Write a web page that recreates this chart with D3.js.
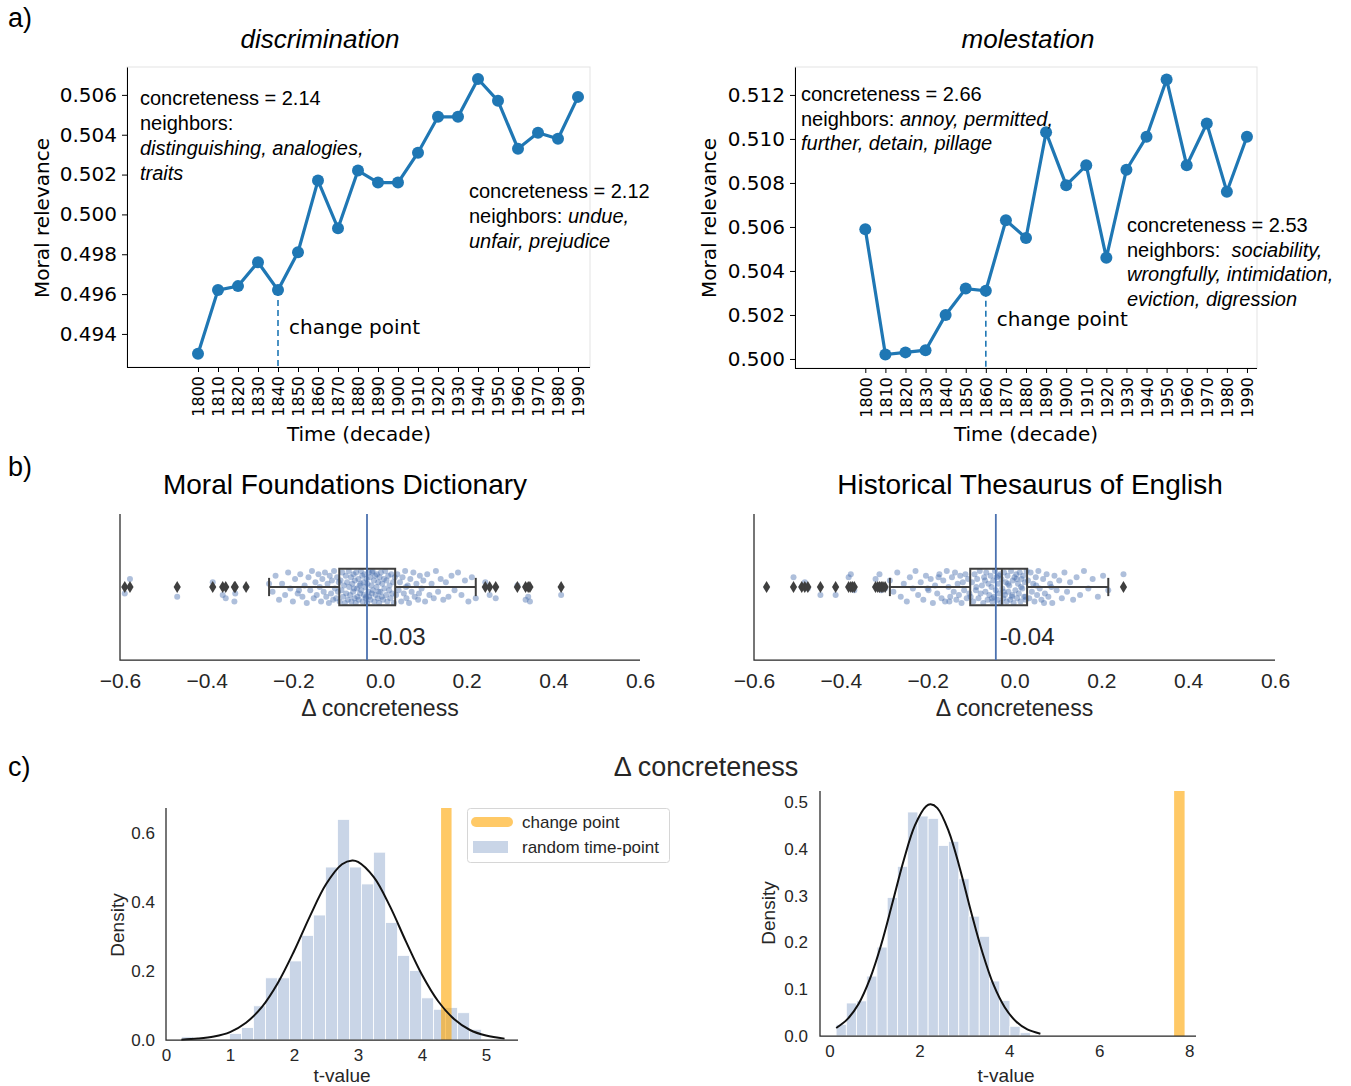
<!DOCTYPE html>
<html>
<head>
<meta charset="utf-8">
<script src="https://cdn.jsdelivr.net/npm/d3@7"></script>
<style>
  body { margin: 0; background: #fff; }
  svg { display: block; }
</style>
</head>
<body>
<div id="chart"></div>
<script>
// ---- data ----
const decades = [1800, 1810, 1820, 1830, 1840, 1850, 1860, 1870, 1880, 1890,
                 1900, 1910, 1920, 1930, 1940, 1950, 1960, 1970, 1980, 1990];
const discriminationValues = [0.4930, 0.4962, 0.4964, 0.4976, 0.4962, 0.4981, 0.5017, 0.4993, 0.5022, 0.5016,
                              0.5016, 0.5031, 0.5049, 0.5049, 0.5068, 0.5057, 0.5033, 0.5041, 0.5038, 0.5059];
const molestationValues = [0.5059, 0.5002, 0.5003, 0.5004, 0.5020, 0.5032, 0.5031, 0.5063, 0.5055, 0.5103,
                           0.5079, 0.5088, 0.5046, 0.5086, 0.5101, 0.5127, 0.5088, 0.5107, 0.5076, 0.5101];
const discriminationTicks = [0.494, 0.496, 0.498, 0.500, 0.502, 0.504, 0.506];
const molestationTicks = [0.500, 0.502, 0.504, 0.506, 0.508, 0.510, 0.512];

// boxplot stats: [whisker low, q1, median, q3, whisker high]
const mfdBox = [-0.256, -0.094, -0.030, 0.035, 0.221];
const mfdMean = -0.03;
const mfdOutliers = [-0.589, -0.577, -0.468, -0.386, -0.363, -0.356, -0.336, -0.334, -0.309,
                     0.243, 0.253, 0.267, 0.317, 0.336, 0.342, 0.346, 0.418];
// [delta concreteness, jitter]
const mfdPoints = [
  [-0.589,0.04],[-0.577,-0.05],[-0.468,0.06],[-0.386,-0.03],[-0.363,0.05],[-0.356,0.07],[-0.336,0.09],[-0.334,0.04],[-0.309,0.0],
  [-0.256,-0.02],[0.221,0.07],[0.243,-0.03],[0.253,0.05],[0.267,0.07],[0.317,-0.01],[0.336,0.08],[0.342,0.06],[0.346,0.09],[0.418,0.05],
  [-0.248,0.03],[-0.241,-0.07],[-0.233,0.08],[-0.226,-0.02],[-0.219,0.05],[-0.212,-0.09],[-0.207,0.01],[-0.201,0.09],[-0.196,-0.05],[-0.19,0.04],
  [-0.184,-0.08],[-0.179,0.06],[-0.174,-0.01],[-0.169,0.1],[-0.165,-0.06],[-0.161,0.02],[-0.157,-0.1],[-0.153,0.07],[-0.149,-0.03],[-0.146,0.05],
  [-0.142,-0.08],[-0.139,0.0],[-0.136,0.09],[-0.133,-0.05],[-0.13,0.03],[-0.127,-0.09],[-0.124,0.06],[-0.121,-0.02],[-0.118,0.1],[-0.116,-0.07],
  [-0.113,0.04],[-0.111,-0.04],[-0.108,0.08],[-0.106,-0.1],[-0.104,0.01],[-0.101,0.07],[-0.099,-0.06],[-0.097,0.03],[-0.095,-0.03],[-0.187,0.02],
  [-0.093,0.09],[-0.091,-0.04],[-0.089,0.02],[-0.087,-0.09],[-0.085,0.06],[-0.083,-0.01],[-0.081,0.1],[-0.079,-0.07],[-0.078,0.04],[-0.076,-0.03],
  [-0.074,0.08],[-0.072,-0.1],[-0.071,0.0],[-0.069,0.05],[-0.067,-0.06],[-0.066,0.09],[-0.064,-0.02],[-0.062,0.03],[-0.061,-0.08],[-0.059,0.07],
  [-0.058,-0.04],[-0.056,0.1],[-0.055,-0.09],[-0.053,0.01],[-0.052,0.06],[-0.05,-0.05],[-0.049,0.08],[-0.047,-0.01],[-0.046,0.04],[-0.044,-0.1],
  [-0.043,0.02],[-0.041,-0.07],[-0.04,0.09],[-0.038,-0.03],[-0.037,0.05],[-0.036,-0.08],[-0.034,0.0],[-0.033,0.07],[-0.031,-0.05],[-0.03,0.1],
  [-0.029,-0.02],[-0.027,0.03],[-0.026,-0.09],[-0.025,0.06],[-0.023,-0.06],[-0.022,0.08],[-0.02,-0.01],[-0.019,0.04],[-0.017,-0.1],[-0.016,0.02],
  [-0.014,-0.04],[-0.013,0.09],[-0.011,-0.07],[-0.01,0.05],[-0.008,0.0],[-0.007,-0.08],[-0.005,0.07],[-0.004,-0.03],[-0.002,0.1],[-0.001,-0.06],
  [0.001,0.03],[0.002,-0.09],[0.004,0.06],[0.005,-0.02],[0.007,0.08],[0.009,-0.05],[0.01,0.01],[0.012,-0.1],[0.014,0.05],[0.015,-0.04],
  [0.017,0.09],[0.019,-0.07],[0.021,0.02],[0.022,-0.01],[0.024,0.07],[0.026,-0.08],[0.028,0.04],[0.03,-0.03],[0.032,0.1],[0.034,-0.06],
  [-0.06,0.01],[-0.045,-0.02],[-0.032,0.06],[-0.018,-0.09],[-0.003,0.03],
  [0.037,0.05],[0.04,-0.08],[0.043,0.02],[0.046,-0.03],[0.049,0.09],[0.052,-0.06],[0.055,0.04],[0.058,-0.1],[0.061,0.07],[0.064,-0.01],
  [0.067,0.1],[0.07,-0.05],[0.073,0.03],[0.077,-0.09],[0.08,0.06],[0.084,-0.02],[0.088,0.08],[0.092,-0.07],[0.096,0.01],[0.1,-0.04],
  [0.104,0.09],[0.109,-0.08],[0.114,0.05],[0.119,-0.02],[0.124,0.07],[0.129,-0.1],[0.134,0.03],[0.14,-0.05],[0.146,0.08],[0.152,-0.03],
  [0.158,0.06],[0.165,-0.07],[0.172,0.02],[0.18,-0.09],[0.188,0.05],[0.196,-0.04],[0.204,0.09],[0.212,-0.06],[0.06,0.0],[0.09,0.04]
];

const hteBox = [-0.287, -0.102, -0.029, 0.029, 0.216];
const hteMean = -0.043;
const hteOutliers = [-0.571, -0.509, -0.490, -0.483, -0.476, -0.447, -0.412, -0.382, -0.377, -0.373, -0.369,
                     -0.320, -0.315, -0.311, -0.307, -0.303, -0.298, 0.251];
const htePoints = [
  [-0.571,0.0],[-0.509,-0.06],[-0.49,0.0],[-0.483,-0.03],[-0.476,0.01],[-0.447,0.05],[-0.412,0.05],[-0.382,-0.06],[-0.377,-0.08],[-0.373,0.0],[-0.369,0.02],
  [-0.32,-0.05],[-0.315,0.0],[-0.311,-0.08],[-0.307,0.02],[-0.303,0.0],[-0.298,0.01],[0.251,-0.08],
  [-0.287,-0.04],[-0.279,0.03],[-0.27,-0.09],[-0.262,0.06],[-0.255,-0.02],[-0.248,0.09],[-0.241,-0.06],[-0.234,0.01],[-0.228,-0.1],[-0.222,0.05],
  [-0.216,-0.03],[-0.21,0.08],[-0.204,-0.07],[-0.198,0.02],[-0.193,-0.05],[-0.188,0.1],[-0.183,-0.01],[-0.178,0.04],[-0.173,-0.08],[-0.168,0.07],
  [-0.164,-0.04],[-0.16,0.09],[-0.156,-0.1],[-0.152,0.0],[-0.148,0.06],[-0.144,-0.06],[-0.14,0.03],[-0.137,-0.09],[-0.134,0.08],[-0.131,-0.02],
  [-0.128,0.05],[-0.125,-0.07],[-0.122,0.1],[-0.119,-0.03],[-0.116,0.02],[-0.113,-0.08],[-0.11,0.07],[-0.107,-0.05],[-0.104,0.04],[-0.175,-0.06],[-0.15,0.09],[-0.2,0.01],
  [-0.101,0.06],[-0.098,-0.03],[-0.095,0.09],[-0.092,-0.08],[-0.089,0.02],[-0.086,-0.05],[-0.083,0.07],[-0.08,-0.1],[-0.078,0.04],[-0.075,-0.01],
  [-0.072,0.1],[-0.07,-0.06],[-0.067,0.03],[-0.065,-0.09],[-0.062,0.08],[-0.06,-0.02],[-0.058,0.05],[-0.055,-0.07],[-0.053,0.0],[-0.051,0.09],
  [-0.049,-0.04],[-0.047,0.06],[-0.045,-0.1],[-0.043,0.02],[-0.041,-0.06],[-0.039,0.08],[-0.037,-0.02],[-0.035,0.04],[-0.033,-0.08],[-0.031,0.1],
  [-0.03,-0.05],[-0.028,0.01],[-0.026,0.07],[-0.024,-0.09],[-0.022,0.05],[-0.02,-0.03],[-0.018,0.09],[-0.016,-0.07],[-0.014,0.03],[-0.012,-0.01],
  [-0.01,0.08],[-0.008,-0.1],[-0.006,0.06],[-0.004,-0.04],[-0.002,0.1],[0.0,-0.06],[0.002,0.02],[0.004,-0.08],[0.006,0.07],[0.008,-0.02],
  [0.01,0.04],[0.012,-0.09],[0.014,0.09],[0.016,-0.05],[0.018,0.01],[0.02,-0.07],[0.022,0.06],[0.024,-0.03],[0.026,0.08],[0.028,-0.1],
  [-0.088,0.0],[-0.068,-0.04],[-0.052,0.07],[-0.036,-0.07],[-0.025,0.03],[-0.015,-0.02],[-0.005,0.05],[0.005,-0.05],[0.015,0.0],[0.025,0.06],
  [0.031,-0.04],[0.034,0.07],[0.037,-0.09],[0.04,0.03],[0.043,-0.02],[0.046,0.09],[0.049,-0.06],[0.052,0.05],[0.055,-0.1],[0.058,0.01],
  [0.062,0.08],[0.066,-0.05],[0.07,0.04],[0.074,-0.08],[0.078,0.06],[0.082,-0.02],[0.087,0.1],[0.092,-0.07],[0.097,0.02],[0.103,-0.04],
  [0.109,0.07],[0.115,-0.09],[0.121,0.03],[0.128,-0.03],[0.135,0.08],[0.143,-0.06],[0.151,0.05],[0.16,-0.1],[0.17,0.01],[0.18,-0.05],
  [0.192,0.06],[0.204,-0.07],[0.216,0.02],[0.05,-0.01],[0.068,0.1],[0.085,0.0]
];
const deltaTicks = [-0.6, -0.4, -0.2, 0.0, 0.2, 0.4, 0.6];

// t-value histograms (random time-points) + fitted curves + change point t-value
const mfdHistStart = 0.242, mfdHistWidth = 0.1875;
const mfdHistHeights = [0.009, 0, 0, 0, 0.019, 0.036, 0.099, 0.180, 0.180, 0.229, 0.303, 0.362, 0.501,
                        0.639, 0.501, 0.452, 0.544, 0.340, 0.245, 0.201, 0.122, 0.089, 0.094, 0.079, 0.031];
const mfdCurveX = [0.24, 0.5, 0.75, 1.0, 1.25, 1.5, 1.75, 2.0, 2.25, 2.5, 2.75, 2.91, 3.0, 3.25, 3.5, 3.75, 4.0, 4.25, 4.5, 4.75, 5.0, 5.29];
const mfdCurveY = [0.001, 0.004, 0.010, 0.023, 0.050, 0.096, 0.166, 0.257, 0.359, 0.451, 0.509, 0.520, 0.516, 0.471, 0.387, 0.285, 0.189, 0.113, 0.061, 0.029, 0.013, 0.004];
const mfdChangeT = 4.38;

const hteHistStart = 0.148, hteHistWidth = 0.2273;
const hteHistHeights = [0.025, 0.0705, 0.075, 0.128, 0.190, 0.296, 0.3625, 0.4786, 0.470, 0.465,
                        0.407, 0.416, 0.336, 0.256, 0.213, 0.1175, 0.076, 0.0207, 0.007];
const hteCurveX = [0.15, 0.4, 0.65, 0.9, 1.15, 1.4, 1.65, 1.9, 2.15, 2.25, 2.4, 2.65, 2.9, 3.15, 3.4, 3.65, 3.9, 4.15, 4.4, 4.69];
const hteCurveY = [0.017, 0.036, 0.069, 0.122, 0.195, 0.284, 0.375, 0.450, 0.491, 0.495, 0.487, 0.438, 0.358, 0.265, 0.179, 0.109, 0.061, 0.031, 0.014, 0.005];
const hteChangeT = 7.78;

// ---- drawing ----
const W = 1351, H = 1086;
const SANS = "'Liberation Sans', Arial, sans-serif";
const DEJAVU = "'DejaVu Sans', sans-serif";
const BLUE = "#1f77b4", SEA = "#4c72b0", INK = "#262626";

const svg = d3.select("#chart").append("svg")
    .attr("width", W)
    .attr("height", H)
    .style("font-family", SANS);

// panel letters
[["a)", 27], ["b)", 476], ["c)", 776]].forEach(([t, yy]) => {
    svg.append("text").attr("x", 8).attr("y", yy)
        .style("font-size", "27px").attr("fill", "#000").text(t);
});

function drawLinePanel(p) {
    const x = d3.scaleLinear().domain(p.xDomain).range([p.left, p.right]);
    const y = d3.scaleLinear().domain(p.yDomain).range([p.bottom, p.top]);
    const g = svg.append("g");

    // light frame (top / right spines)
    g.append("rect")
        .attr("x", p.left).attr("y", p.top)
        .attr("width", p.right - p.left).attr("height", p.bottom - p.top)
        .attr("fill", "none").attr("stroke", "#e3e3e3");

    const yAxis = g.append("g")
        .attr("transform", `translate(${p.left},0)`)
        .call(d3.axisLeft(y).tickValues(p.yTicks).tickFormat(d3.format(".3f")).tickSize(5).tickPadding(5).tickSizeOuter(0));
    yAxis.selectAll("text").style("font-family", DEJAVU).style("font-size", "20px").attr("fill", "#000");

    const xAxis = g.append("g")
        .attr("transform", `translate(0,${p.bottom})`)
        .call(d3.axisBottom(x).tickValues(decades).tickFormat(d3.format("d")).tickSize(5).tickSizeOuter(0));
    xAxis.select(".domain").attr("d", `M${p.left},0.5H${p.right}`);
    xAxis.selectAll("text")
        .attr("transform", "rotate(-90)")
        .attr("text-anchor", "end")
        .attr("x", -9).attr("y", 0).attr("dy", "0.36em")
        .style("font-family", DEJAVU).style("font-size", "16px").attr("fill", "#000");

    // change point dashed line
    const ci = decades.indexOf(p.changeDecade);
    g.append("line")
        .attr("x1", x(p.changeDecade)).attr("x2", x(p.changeDecade))
        .attr("y1", y(p.values[ci])).attr("y2", p.bottom)
        .attr("stroke", BLUE).attr("stroke-width", 1.6).attr("stroke-dasharray", "6,4");
    g.append("text")
        .attr("x", x(p.changeDecade) + 11).attr("y", p.changeLabelY)
        .attr("dy", "0.35em")
        .style("font-family", DEJAVU).style("font-size", "20px").attr("fill", "#000")
        .text("change point");

    // series line + markers
    g.append("path")
        .datum(p.values)
        .attr("fill", "none").attr("stroke", BLUE).attr("stroke-width", 3.2)
        .attr("d", d3.line().x((d, i) => x(decades[i])).y(d => y(d)));
    g.selectAll("circle.pt")
        .data(p.values)
        .join("circle")
        .attr("class", "pt")
        .attr("cx", (d, i) => x(decades[i])).attr("cy", d => y(d))
        .attr("r", 6).attr("fill", BLUE);

    // annotations
    p.notes.forEach(note => {
        note.lines.forEach((segs, li) => {
            const t = g.append("text")
                .attr("x", note.x).attr("y", note.y + li * note.lh)
                .style("font-size", "20px").attr("fill", "#000")
                .attr("xml:space", "preserve");
            segs.forEach(([s, it]) => t.append("tspan").style("font-style", it ? "italic" : "normal").text(s));
        });
    });

    // title + axis labels
    g.append("text").attr("x", p.titleX).attr("y", 48)
        .attr("text-anchor", "middle").style("font-size", "26px").style("font-style", "italic")
        .text(p.title);
    g.append("text")
        .attr("transform", `translate(${p.ylabelX},218) rotate(-90)`)
        .attr("text-anchor", "middle").attr("dy", "0.35em")
        .style("font-family", DEJAVU).style("font-size", "20px")
        .text("Moral relevance");
    g.append("text")
        .attr("x", p.xlabelX).attr("y", 434).attr("dy", "0.35em")
        .attr("text-anchor", "middle")
        .style("font-family", DEJAVU).style("font-size", "20px")
        .text("Time (decade)");
}

drawLinePanel({
    left: 127, right: 590, top: 67, bottom: 367,
    xDomain: [1764.5, 1996], yDomain: [0.49234, 0.5074],
    values: discriminationValues, yTicks: discriminationTicks,
    changeDecade: 1840, changeLabelY: 327,
    title: "discrimination", titleX: 320, ylabelX: 42, xlabelX: 359,
    notes: [
        { x: 140, y: 105, lh: 25, lines: [
            [["concreteness = 2.14", false]],
            [["neighbors:", false]],
            [["distinguishing, analogies,", true]],
            [["traits", true]] ] },
        { x: 469, y: 198, lh: 25, lines: [
            [["concreteness = 2.12", false]],
            [["neighbors: ", false], ["undue,", true]],
            [["unfair, prejudice", true]] ] }
    ]
});

drawLinePanel({
    left: 795, right: 1257, top: 67, bottom: 368,
    xDomain: [1765, 1995], yDomain: [0.49959, 0.51327],
    values: molestationValues, yTicks: molestationTicks,
    changeDecade: 1860, changeLabelY: 319,
    title: "molestation", titleX: 1028, ylabelX: 709, xlabelX: 1026,
    notes: [
        { x: 801, y: 101, lh: 24.5, lines: [
            [["concreteness = 2.66", false]],
            [["neighbors: ", false], ["annoy, permitted,", true]],
            [["further, detain, pillage", true]] ] },
        { x: 1127, y: 232, lh: 24.7, lines: [
            [["concreteness = 2.53", false]],
            [["neighbors:  ", false], ["sociability,", true]],
            [["wrongfully, intimidation,", true]],
            [["eviction, digression", true]] ] }
    ]
});

// ---- b) box + strip plots ----
function drawBoxPanel(p) {
    const x = d3.scaleLinear().domain([-0.6, 0.6]).range([p.left, p.right]);
    const y = d3.scaleLinear().domain([-0.5, 0.5]).range([p.top, p.bottom]);
    const g = svg.append("g");

    // spines
    g.append("path")
        .attr("d", `M${p.left},${p.top}V${p.bottom}H${p.right}`)
        .attr("fill", "none").attr("stroke", INK).attr("stroke-width", 1.25);

    const xAxis = g.append("g")
        .attr("transform", `translate(0,${p.bottom})`)
        .call(d3.axisBottom(x).tickValues(deltaTicks).tickFormat(d => d3.format(".1f")(d).replace("-", "\u2212")).tickSize(0).tickPadding(13));
    xAxis.select(".domain").remove();
    xAxis.selectAll("text").style("font-family", SANS).style("font-size", "21px").attr("fill", INK);

    // strip points
    g.append("g").selectAll("circle")
        .data(p.points)
        .join("circle")
        .attr("cx", d => x(d[0])).attr("cy", d => y(d[1] * 1.1))
        .attr("r", 3).attr("fill", SEA).attr("fill-opacity", 0.45);

    // box
    const [wlo, q1, med, q3, whi] = p.box;
    const half = 0.125;
    const boxColor = "#3f3f3f";
    g.append("line").attr("x1", x(wlo)).attr("x2", x(q1)).attr("y1", y(0)).attr("y2", y(0))
        .attr("stroke", boxColor).attr("stroke-width", 2);
    g.append("line").attr("x1", x(q3)).attr("x2", x(whi)).attr("y1", y(0)).attr("y2", y(0))
        .attr("stroke", boxColor).attr("stroke-width", 2);
    [wlo, whi].forEach(v => g.append("line")
        .attr("x1", x(v)).attr("x2", x(v)).attr("y1", y(-half / 2)).attr("y2", y(half / 2))
        .attr("stroke", boxColor).attr("stroke-width", 2));
    g.append("rect")
        .attr("x", x(q1)).attr("y", y(-half))
        .attr("width", x(q3) - x(q1)).attr("height", y(half) - y(-half))
        .attr("fill", "none").attr("stroke", boxColor).attr("stroke-width", 2);
    g.append("line").attr("x1", x(med)).attr("x2", x(med)).attr("y1", y(-half)).attr("y2", y(half))
        .attr("stroke", boxColor).attr("stroke-width", 2);

    // outlier diamonds
    g.append("g").selectAll("path")
        .data(p.outliers)
        .join("path")
        .attr("transform", d => `translate(${x(d)},${y(0)})`)
        .attr("d", "M0,-6L3.6,0L0,6L-3.6,0Z")
        .attr("fill", boxColor);

    // mean line + label
    g.append("line")
        .attr("x1", x(p.mean)).attr("x2", x(p.mean)).attr("y1", p.top).attr("y2", p.bottom)
        .attr("stroke", SEA).attr("stroke-width", 1.8);
    g.append("text")
        .attr("x", x(p.mean) + 4).attr("y", 637).attr("dy", "0.35em")
        .style("font-size", "24px").attr("fill", INK)
        .text(p.mean.toFixed(2));

    g.append("text").attr("x", p.titleX).attr("y", 494)
        .attr("text-anchor", "middle").style("font-size", "28px").attr("fill", "#000")
        .text(p.title);
    g.append("text").attr("x", (p.left + p.right) / 2).attr("y", 708).attr("dy", "0.35em")
        .attr("text-anchor", "middle").style("font-size", "23px").attr("fill", INK)
        .text("\u0394 concreteness");
}

drawBoxPanel({ left: 120, right: 640, top: 514, bottom: 660, box: mfdBox, mean: mfdMean,
    outliers: mfdOutliers, points: mfdPoints, title: "Moral Foundations Dictionary", titleX: 345 });
drawBoxPanel({ left: 754, right: 1275, top: 514, bottom: 660, box: hteBox, mean: hteMean,
    outliers: hteOutliers, points: htePoints, title: "Historical Thesaurus of English", titleX: 1030 });

// ---- c) t-value histograms ----
svg.append("text").attr("x", 706).attr("y", 767).attr("dy", "0.35em")
    .attr("text-anchor", "middle").style("font-size", "27px").attr("fill", INK)
    .text("\u0394 concreteness");

function drawHistPanel(p) {
    const x = d3.scaleLinear().domain(p.xDomain).range([p.left, p.right]);
    const y = d3.scaleLinear().domain(p.yDomain).range([p.bottom, p.top]);
    const g = svg.append("g");

    const bins = p.heights.map((h, i) => ({ x0: p.start + i * p.width, x1: p.start + (i + 1) * p.width, h }));
    g.append("g").selectAll("rect")
        .data(bins.filter(d => d.h > 0))
        .join("rect")
        .attr("x", d => x(d.x0)).attr("width", d => x(d.x1) - x(d.x0))
        .attr("y", d => y(d.h)).attr("height", d => p.bottom - y(d.h))
        .attr("fill", "#c9d5e7").attr("stroke", "#fff").attr("stroke-width", 0.8);

    // change point t-value
    g.append("line")
        .attr("x1", x(p.changeT)).attr("x2", x(p.changeT))
        .attr("y1", p.top).attr("y2", p.bottom)
        .attr("stroke", "orange").attr("stroke-opacity", 0.6).attr("stroke-width", 10.5);

    // fitted curve
    g.append("path")
        .datum(p.curveX.map((cx, i) => [cx, p.curveY[i]]))
        .attr("fill", "none").attr("stroke", "#111").attr("stroke-width", 2)
        .attr("d", d3.line().x(d => x(d[0])).y(d => y(d[1])).curve(d3.curveCatmullRom.alpha(0.5)));

    // spines + ticks
    g.append("path")
        .attr("d", `M${p.left},${p.top}V${p.bottom}H${p.right}`)
        .attr("fill", "none").attr("stroke", INK).attr("stroke-width", 1.25);
    const xAxis = g.append("g").attr("transform", `translate(0,${p.bottom})`)
        .call(d3.axisBottom(x).tickValues(p.xTicks).tickFormat(d3.format("d")).tickSize(0).tickPadding(9));
    const yAxis = g.append("g").attr("transform", `translate(${p.left},0)`)
        .call(d3.axisLeft(y).tickValues(p.yTicks).tickFormat(d3.format(".1f")).tickSize(0).tickPadding(p.yPad));
    [xAxis, yAxis].forEach(a => {
        a.select(".domain").remove();
        a.selectAll("text").style("font-family", SANS).style("font-size", "17px").attr("fill", INK);
    });

    g.append("text")
        .attr("transform", `translate(${p.ylabelX},${p.ylabelY}) rotate(-90)`)
        .attr("text-anchor", "middle").attr("dy", "0.35em")
        .style("font-size", "19px").attr("fill", INK).text("Density");
    g.append("text").attr("x", p.xlabelX).attr("y", 1082)
        .attr("text-anchor", "middle").style("font-size", "19px").attr("fill", INK).text("t-value");
    return g;
}

const histLeft = drawHistPanel({
    left: 166, right: 518, top: 808, bottom: 1040, xDomain: [0, 5.5], yDomain: [0, 0.672],
    start: mfdHistStart, width: mfdHistWidth, heights: mfdHistHeights,
    curveX: mfdCurveX, curveY: mfdCurveY, changeT: mfdChangeT,
    xTicks: [0, 1, 2, 3, 4, 5], yTicks: [0, 0.2, 0.4, 0.6], yPad: 11,
    ylabelX: 117, ylabelY: 925, xlabelX: 342
});
drawHistPanel({
    left: 820, right: 1196, top: 791, bottom: 1036, xDomain: [-0.21, 8.15], yDomain: [0, 0.5235],
    start: hteHistStart, width: hteHistWidth, heights: hteHistHeights,
    curveX: hteCurveX, curveY: hteCurveY, changeT: hteChangeT,
    xTicks: [0, 2, 4, 6, 8], yTicks: [0, 0.1, 0.2, 0.3, 0.4, 0.5], yPad: 12,
    ylabelX: 768, ylabelY: 913, xlabelX: 1006
});

// legend (left histogram)
const legend = histLeft.append("g");
legend.append("rect")
    .attr("x", 467.5).attr("y", 808.5).attr("width", 202).attr("height", 54).attr("rx", 3)
    .attr("fill", "#fff").attr("stroke", "#d6d6d6");
legend.append("line")
    .attr("x1", 476).attr("x2", 508).attr("y1", 822).attr("y2", 822)
    .attr("stroke", "orange").attr("stroke-opacity", 0.6).attr("stroke-width", 10).attr("stroke-linecap", "round");
legend.append("rect")
    .attr("x", 473).attr("y", 841).attr("width", 35).attr("height", 12).attr("fill", "#c9d5e7");
[["change point", 822], ["random time-point", 847]].forEach(([t, yy]) => {
    legend.append("text").attr("x", 522).attr("y", yy).attr("dy", "0.35em")
        .style("font-size", "17px").attr("fill", INK).text(t);
});
</script>
</body>
</html>
